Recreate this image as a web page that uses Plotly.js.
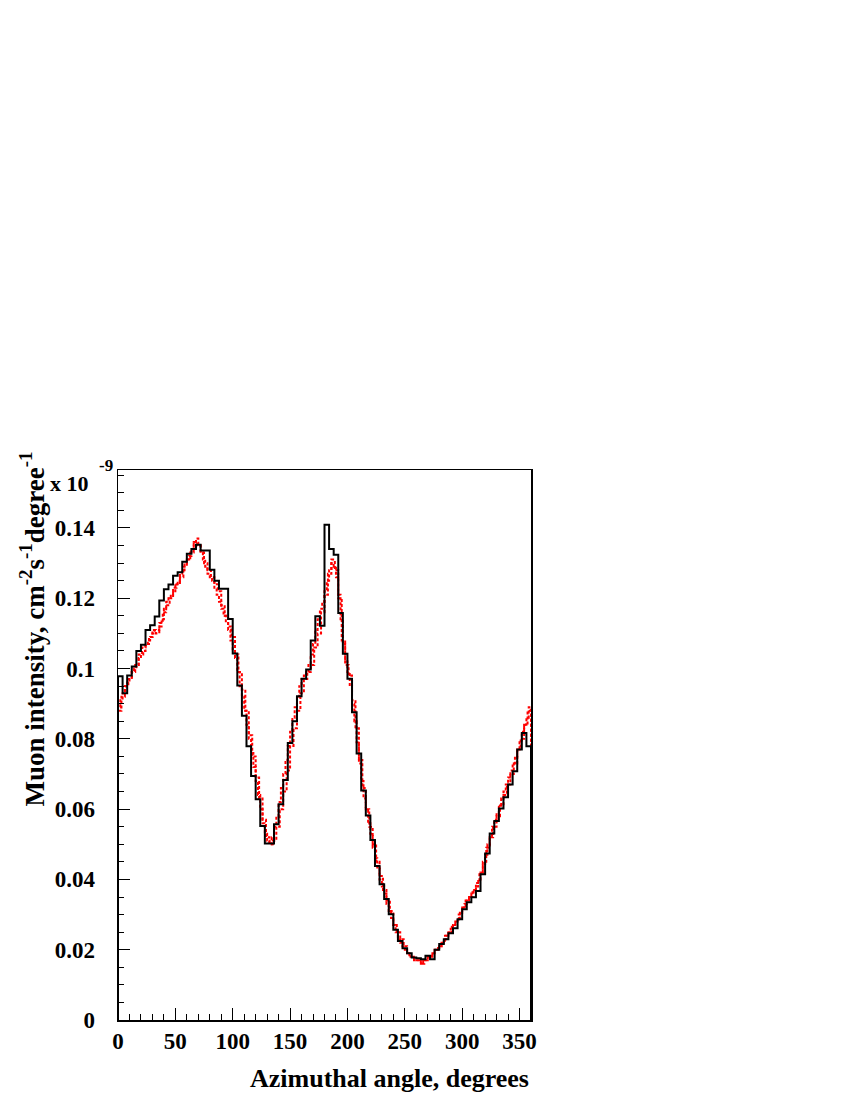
<!DOCTYPE html>
<html>
<head>
<meta charset="utf-8">
<script src="https://cdn.plot.ly/plotly-3.0.1.min.js"></script>
<style>html,body{margin:0;padding:0;background:#fff;}#chart{width:850px;height:1100px;}</style>
</head>
<body>
<div id="chart"></div>
<script>
// Muon intensity (units of 1e-9 cm^-2 s^-1 degree^-1), 4-degree bins, 0..360
const measured = [
  0.0978, 0.0930, 0.0980, 0.1006, 0.1050, 0.1068, 0.1110, 0.1123, 0.1148, 0.1194,
  0.1226, 0.1239, 0.1264, 0.1274, 0.1304, 0.1327, 0.1340, 0.1352, 0.1336, 0.1336,
  0.1281, 0.1250, 0.1227, 0.1227, 0.1141, 0.1043, 0.0952, 0.0866, 0.0779, 0.0694,
  0.0628, 0.0552, 0.0502, 0.0502, 0.0557, 0.0614, 0.0683, 0.0788, 0.0850, 0.0921,
  0.0971, 0.0997, 0.1080, 0.1149, 0.1122, 0.1409, 0.1340, 0.1324, 0.1158, 0.1042,
  0.0971, 0.0876, 0.0758, 0.0653, 0.0582, 0.0512, 0.0438, 0.0386, 0.0344, 0.0301,
  0.0257, 0.0225, 0.0204, 0.0190, 0.0178, 0.0176, 0.0173, 0.0183, 0.0173, 0.0200,
  0.0216, 0.0230, 0.0247, 0.0261, 0.0287, 0.0315, 0.0335, 0.0349, 0.0367, 0.0415,
  0.0474, 0.0531, 0.0566, 0.0602, 0.0634, 0.0670, 0.0708, 0.0770, 0.0817, 0.0779
];

// Simulation A, 2-degree bins
const simA = [
  0.089, 0.091, 0.093, 0.095, 0.096, 0.097, 0.099, 0.100, 0.101, 0.103,
  0.104, 0.105, 0.107, 0.108, 0.109, 0.110, 0.111, 0.111, 0.112, 0.114,
  0.117, 0.119, 0.120, 0.121, 0.122, 0.124, 0.125, 0.127, 0.128, 0.130,
  0.131, 0.132, 0.134, 0.136, 0.137, 0.135, 0.133, 0.131, 0.129, 0.127,
  0.126, 0.125, 0.123, 0.121, 0.119, 0.117, 0.115, 0.113, 0.111, 0.108,
  0.105, 0.103, 0.099, 0.095, 0.092, 0.088, 0.084, 0.080, 0.076, 0.072,
  0.068, 0.064, 0.060, 0.056, 0.053, 0.051, 0.050, 0.052, 0.055, 0.058,
  0.062, 0.066, 0.070, 0.074, 0.078, 0.082, 0.086, 0.089, 0.092, 0.095,
  0.097, 0.098, 0.099, 0.101, 0.104, 0.107, 0.111, 0.114, 0.117, 0.119,
  0.122, 0.125, 0.128, 0.130, 0.129, 0.126, 0.121, 0.114, 0.107, 0.102,
  0.099, 0.095, 0.090, 0.085, 0.079, 0.073, 0.068, 0.063, 0.060, 0.056,
  0.053, 0.049, 0.046, 0.043, 0.040, 0.038, 0.036, 0.033, 0.031, 0.029,
  0.027, 0.025, 0.023, 0.022, 0.021, 0.020, 0.019, 0.018, 0.018, 0.017,
  0.017, 0.017, 0.016, 0.017, 0.017, 0.018, 0.018, 0.019, 0.020, 0.020,
  0.021, 0.022, 0.023, 0.024, 0.025, 0.026, 0.027, 0.028, 0.029, 0.031,
  0.032, 0.033, 0.034, 0.035, 0.036, 0.037, 0.038, 0.040, 0.042, 0.044,
  0.047, 0.050, 0.052, 0.055, 0.057, 0.059, 0.061, 0.063, 0.065, 0.067,
  0.069, 0.071, 0.073, 0.075, 0.077, 0.079, 0.082, 0.084, 0.086, 0.089
];

// Simulation B, 3-degree bins
const simB = [
  0.088, 0.092, 0.095, 0.097, 0.099, 0.101, 0.104, 0.106, 0.107, 0.109,
  0.111, 0.110, 0.113, 0.116, 0.118, 0.120, 0.123, 0.124, 0.126, 0.129,
  0.131, 0.133, 0.136, 0.135, 0.133, 0.130, 0.128, 0.126, 0.124, 0.122,
  0.118, 0.115, 0.112, 0.109, 0.104, 0.099, 0.094, 0.088, 0.081, 0.075,
  0.069, 0.063, 0.057, 0.052, 0.050, 0.051, 0.055, 0.060, 0.065, 0.071,
  0.078, 0.083, 0.088, 0.093, 0.097, 0.099, 0.101, 0.106, 0.110, 0.116,
  0.121, 0.127, 0.131, 0.128, 0.120, 0.108, 0.101, 0.098, 0.091, 0.083,
  0.074, 0.066, 0.060, 0.055, 0.050, 0.045, 0.041, 0.037, 0.034, 0.031,
  0.027, 0.025, 0.023, 0.021, 0.019, 0.018, 0.017, 0.017, 0.016, 0.017,
  0.018, 0.019, 0.020, 0.021, 0.022, 0.024, 0.025, 0.027, 0.028, 0.030,
  0.032, 0.034, 0.035, 0.037, 0.039, 0.042, 0.045, 0.049, 0.052, 0.055,
  0.058, 0.061, 0.064, 0.067, 0.070, 0.073, 0.077, 0.080, 0.084, 0.088
];

const xTickVals = [0, 50, 100, 150, 200, 250, 300, 350];
const yTickVals = [0, 0.02, 0.04, 0.06, 0.08, 0.1, 0.12, 0.14];

function histPath(vals, lo, hi) {
  const w = (hi - lo) / vals.length;
  const xs = [lo], ys = [0];
  for (let i = 0; i < vals.length; i++) { xs.push(lo + i * w); ys.push(vals[i]); }
  xs.push(hi); ys.push(vals[vals.length - 1]);
  xs.push(hi); ys.push(0);
  return {x: xs, y: ys};
}

const hM = histPath(measured, 0, 360);
const hA = histPath(simA, 0, 360);
const hB = histPath(simB, 0, 360);

const traces = [
  {x: hA.x, y: hA.y, type: 'scatter', mode: 'lines', line: {shape: 'hv', color: '#ff0000', width: 2, dash: '3px,2px'}, hoverinfo: 'skip'},
  {x: hB.x, y: hB.y, type: 'scatter', mode: 'lines', line: {shape: 'hv', color: '#ff0000', width: 2, dash: '3px,2px'}, hoverinfo: 'skip'},
  {x: hM.x, y: hM.y, type: 'scatter', mode: 'lines', line: {shape: 'hv', color: '#000000', width: 2}, hoverinfo: 'skip'}
];

const FAM = 'Liberation Serif, Times New Roman, serif';
const fnt = {family: FAM, size: 23, color: '#000', weight: 'bold'};

const layout = {
  width: 850, height: 1100,
  margin: {l: 118, r: 319, t: 470, b: 80},
  paper_bgcolor: '#fff', plot_bgcolor: '#fff',
  showlegend: false,
  xaxis: {
    range: [0, 360], tickvals: xTickVals, ticktext: xTickVals.map(String),
    ticks: 'inside', ticklen: 12, tickwidth: 1, tickcolor: '#000',
    minor: {dtick: 10, tick0: 0, ticks: 'inside', ticklen: 6, tickwidth: 1, tickcolor: '#000', showgrid: false},
    showline: true, linecolor: '#000', linewidth: 1.5, mirror: true,
    showgrid: false, zeroline: false, tickfont: fnt, ticklabelstandoff: 0
  },
  yaxis: {
    range: [0, 0.1565], tickvals: yTickVals, ticktext: yTickVals.map(v => String(v)),
    ticks: 'inside', ticklen: 12, tickwidth: 1, tickcolor: '#000',
    minor: {dtick: 0.005, tick0: 0, ticks: 'inside', ticklen: 6, tickwidth: 1, tickcolor: '#000', showgrid: false},
    showline: true, linecolor: '#000', linewidth: 1.5, mirror: true,
    showgrid: false, zeroline: false, tickfont: fnt, ticklabelstandoff: 17
  },
  annotations: [
    {text: 'Azimuthal angle, degrees', xref: 'paper', yref: 'paper', x: 1, y: -0.1055, xanchor: 'right', yanchor: 'middle', showarrow: false,
     font: {family: FAM, size: 26, color: '#000', weight: 'bold'}},
    {text: 'Muon intensity, cm<sup>-2</sup>s<sup>-1</sup>degree<sup>-1</sup>', textangle: -90, xref: 'paper', yref: 'paper',
     x: (32 - 118) / 413, y: (1020 - 450) / 550, xanchor: 'center', yanchor: 'top', showarrow: false,
     font: {family: FAM, size: 27, color: '#000', weight: 'bold'}},
    {text: 'x 10', xref: 'paper', yref: 'paper', x: (91 - 118) / 413, y: (1020 - 483) / 550, xanchor: 'right', yanchor: 'middle', showarrow: false,
     font: {family: FAM, size: 22, color: '#000', weight: 'bold'}},
    {text: '-9', xref: 'paper', yref: 'paper', x: (106 - 118) / 413, y: (1020 - 465) / 550, xanchor: 'center', yanchor: 'middle', showarrow: false,
     font: {family: FAM, size: 17, color: '#000', weight: 'bold'}}
  ]
};

Plotly.newPlot('chart', traces, layout, {staticPlot: true, displayModeBar: false});
</script>
</body>
</html>
